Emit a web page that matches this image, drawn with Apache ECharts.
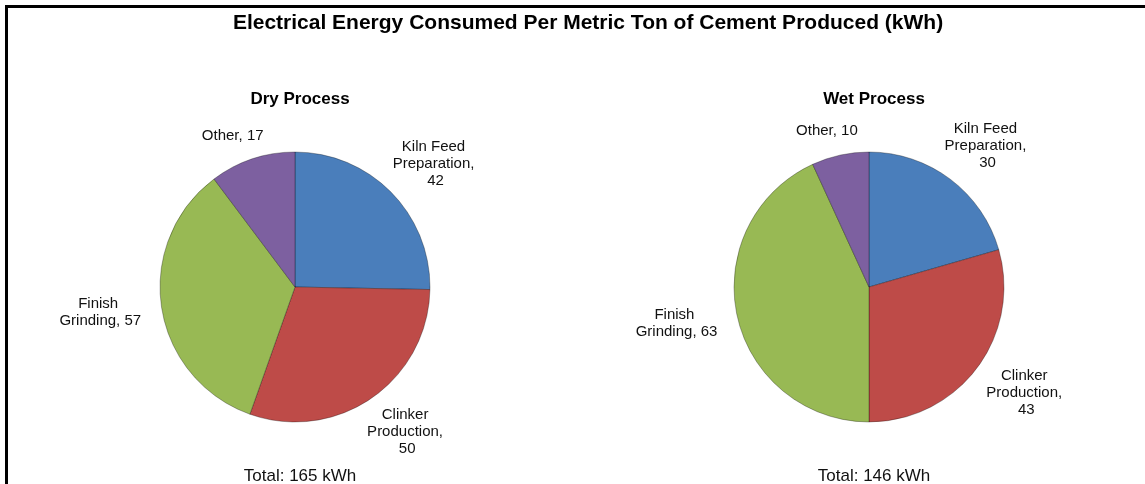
<!DOCTYPE html>
<html>
<head>
<meta charset="utf-8">
<script src="https://cdn.jsdelivr.net/npm/echarts@6/dist/echarts.min.js"></script>
<style>
  html, body { margin: 0; background: #fff; }
  #chart { width: 1145px; height: 484px; }
</style>
</head>
<body>
<div id="chart"></div>
<script>
// data
const categories = ['Kiln Feed Preparation', 'Clinker Production', 'Finish Grinding', 'Other']
const dryValues = [42, 50, 57, 17]
const wetValues = [30, 43, 63, 10]
const processNames = ['Dry Process', 'Wet Process']
const totals = [165, 146]

const colors = ['#4a7ebb', '#be4b48', '#98b954', '#7d60a0']
const font = '"Liberation Sans", Arial, sans-serif'

// put each label just outside the slice, centred on its own text block
const placeLabel = (p) => {
  const pts = p.labelLinePoints
  if (!pts) return {}
  const dx = pts[1][0] - pts[0][0]
  const dy = pts[1][1] - pts[0][1]
  const len = Math.hypot(dx, dy) || 1
  const ux = dx / len, uy = dy / len
  const w = p.labelRect.width, h = p.labelRect.height
  const gap = 16
  return {
    x: pts[0][0] + ux * (gap + w / 2),
    y: pts[0][1] + uy * (gap + h / 2),
    align: 'center',
    verticalAlign: 'middle'
  }
}

const makePie = (values, cx) => ({
  type: 'pie',
  center: [cx, 287],
  radius: 135,
  startAngle: 90,
  clockwise: true,
  avoidLabelOverlap: false,
  silent: true,
  data: categories.map((name, i) => ({ name, value: values[i] })),
  itemStyle: { borderColor: 'rgba(0,0,0,0.3)', borderWidth: 1 },
  label: {
    position: 'outside',
    formatter: '{b}, {c}',
    fontFamily: font,
    fontSize: 15,
    color: '#111',
    width: 92,
    overflow: 'break',
    lineHeight: 17
  },
  labelLine: { show: true, length: 4, length2: 0, lineStyle: { opacity: 0 } },
  labelLayout: placeLabel
})

const chart = echarts.init(document.getElementById('chart'))

chart.setOption({
  backgroundColor: '#fff',
  animation: false,
  color: colors,
  title: [
    {
      text: 'Electrical Energy Consumed Per Metric Ton of Cement Produced (kWh)',
      left: 583, textAlign: 'center', top: 8,
      textStyle: { fontFamily: font, fontSize: 21, fontWeight: 'bold', color: '#000' }
    },
    ...processNames.map((t, i) => ({
      text: t,
      left: i === 0 ? 295 : 869, textAlign: 'center', top: 86,
      textStyle: { fontFamily: font, fontSize: 17, fontWeight: 'bold', color: '#000' }
    })),
    ...totals.map((t, i) => ({
      text: 'Total: ' + t + ' kWh',
      left: i === 0 ? 295 : 869, textAlign: 'center', top: 463,
      textStyle: { fontFamily: font, fontSize: 17, fontWeight: 'normal', color: '#111' }
    }))
  ],
  graphic: [
    { type: 'polyline', shape: { points: [[6.5, 484], [6.5, 6.5], [1145, 6.5]] },
      style: { stroke: '#000', lineWidth: 3, fill: null } }
  ],
  series: [makePie(dryValues, 295), makePie(wetValues, 869)]
})

window.addEventListener('resize', () => chart.resize())
</script>
</body>
</html>
